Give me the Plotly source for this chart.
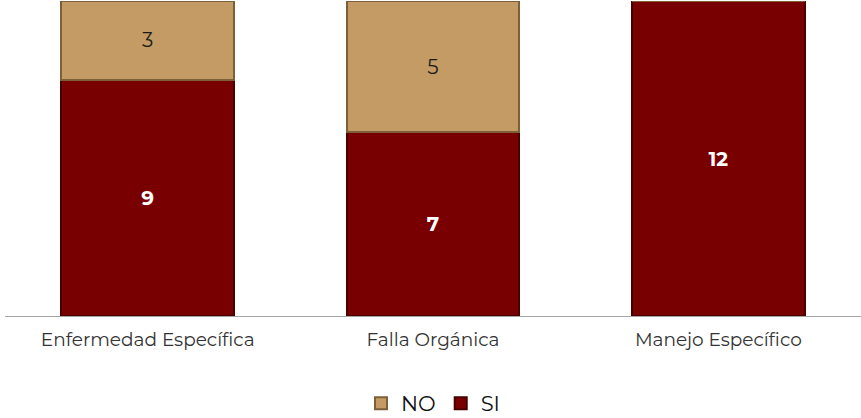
import plotly.graph_objects as go

categories = ["Enfermedad Específica", "Falla Orgánica", "Manejo Específico"]
si_values = [9, 7, 12]
no_values = [3, 5, 0]

fig = go.Figure()
fig.add_trace(go.Bar(
    name="SI", x=categories, y=si_values,
    marker=dict(color="#780000", line=dict(color="#4a0000", width=2)),
    text=[str(v) if v else "" for v in si_values], textposition="inside",
    insidetextanchor="middle",
    textfont=dict(color="white", size=20, family="Montserrat, Open Sans, sans-serif", weight="bold"),
))
fig.add_trace(go.Bar(
    name="NO", x=categories, y=no_values,
    marker=dict(color="#c49b64", line=dict(color="#7d6038", width=2)),
    text=[str(v) if v else "" for v in no_values], textposition="inside",
    insidetextanchor="middle",
    textfont=dict(color="#1a1a1a", size=20, family="Montserrat, Open Sans, sans-serif"),
))

fig.update_layout(
    barmode="stack", bargap=0.395,
    width=861, height=418,
    margin=dict(l=5, r=0, t=1, b=102, autoexpand=False),
    plot_bgcolor="white", paper_bgcolor="white",
    font=dict(family="Montserrat, Open Sans, sans-serif", color="#222"),
    legend=dict(orientation="h", x=0.5, xanchor="center", y=-0.213, yanchor="top",
                font=dict(size=21, color="#111"), traceorder="reversed",
                itemwidth=30, tracegroupgap=0),
    showlegend=True,
)
fig.update_xaxes(showline=True, linecolor="#a6a6a6", linewidth=1, ticks="",
                 automargin=False, ticklabelstandoff=7,
                 tickfont=dict(size=18.5, color="#333"))
fig.update_yaxes(range=[0, 12], visible=False, automargin=False)

# page has a default 8px body margin; drop it so the figure fills the window
fig.write_html("out.html", config={"displayModeBar": False},
               post_script="document.body.style.margin='0';")
